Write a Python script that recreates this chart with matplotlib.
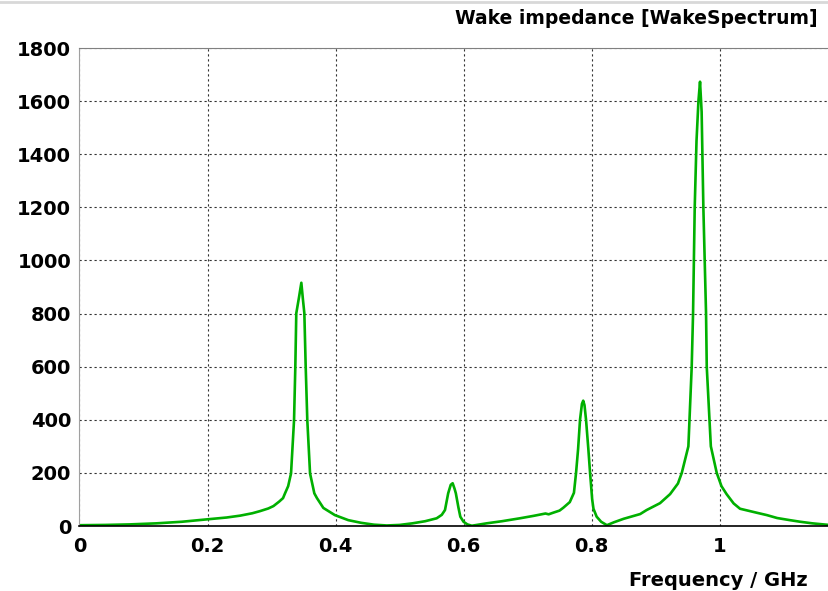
import matplotlib
matplotlib.use("Agg")
import matplotlib.pyplot as plt
from matplotlib.lines import Line2D

# Frequency (GHz) and wake impedance values
freq = [0.000, 0.040, 0.078, 0.120, 0.160, 0.199, 0.230, 0.251, 0.270, 0.282,
        0.295, 0.303, 0.312, 0.318, 0.3211, 0.326, 0.3305, 0.3352, 0.3372, 0.3387,
        0.3430, 0.3466, 0.3490, 0.3513, 0.3534, 0.3559, 0.3602, 0.3669, 0.371, 0.381,
        0.399,
        0.420, 0.440, 0.460, 0.480, 0.500, 0.520, 0.540, 0.558, 0.566, 0.571,
        0.576, 0.580, 0.583, 0.586, 0.588, 0.592, 0.595, 0.600, 0.606, 0.613,
        0.636, 0.660, 0.688, 0.709, 0.728, 0.733, 0.740, 0.750, 0.756, 0.766,
        0.7725, 0.7758, 0.779, 0.782, 0.785, 0.787, 0.789, 0.7914, 0.795, 0.7977,
        0.801, 0.803, 0.808, 0.815, 0.824, 0.835, 0.850, 0.876, 0.886, 0.907,
        0.9227, 0.935, 0.941, 0.9513, 0.9565, 0.9586, 0.9612, 0.964, 0.967, 0.9695,
        0.972, 0.9747, 0.9789, 0.980, 0.9864, 0.9956, 1.003, 1.011, 1.022, 1.032,
        1.058, 1.074, 1.090, 1.110, 1.126, 1.145, 1.171]
impedance = [3, 4, 6, 10, 16, 25, 32, 39, 48, 56,
             66, 75, 92, 105, 123, 150, 198, 399, 600, 801,
             862, 916, 855, 801, 600, 399, 198, 123, 105, 68,
             41,
             22, 12, 5, 2, 4, 10, 18, 29, 42, 60,
             123, 155, 161, 140, 123, 70, 35, 16, 6, 1,
             10, 18, 29, 38, 47, 44, 50, 58, 69, 90,
             125, 200, 290, 400, 460, 472, 455, 400, 290, 200,
             100, 65, 35, 16, 3, 14, 27, 45, 60, 86,
             120, 160, 200, 300, 600, 800, 1200, 1450, 1600, 1673,
             1560, 1200, 800, 600, 300, 200, 150, 120, 85, 65,
             50, 41, 30, 22, 16, 10, 4]

x_ticks = [0, 0.2, 0.4, 0.6, 0.8, 1.0]
x_tick_labels = ["0", "0.2", "0.4", "0.6", "0.8", "1"]
y_ticks = [0, 200, 400, 600, 800, 1000, 1200, 1400, 1600, 1800]
y_tick_labels = ["0", "200", "400", "600", "800", "1000", "1200", "1400", "1600", "1800"]

W, H = 829, 591
fig = plt.figure(figsize=(W / 100, H / 100), dpi=100)
fig.patch.set_facecolor("white")

left, right, top, bottom = 79.5, 829, 48, 526
ax = fig.add_axes([left / W, 1 - bottom / H, (right - left) / W, (bottom - top) / H])

ax.plot(freq, impedance, color="#00b000", linewidth=1.9, solid_joinstyle="round")

ax.set_xlim(0, 1.171)
ax.set_ylim(0, 1800)
ax.set_xticks(x_ticks)
ax.set_xticklabels(x_tick_labels)
ax.set_yticks(y_ticks)
ax.set_yticklabels(y_tick_labels)

ax.grid(True, color="#333333", linestyle=(0, (2, 2.5)), linewidth=0.8)
ax.set_axisbelow(True)

for lab in ax.get_xticklabels() + ax.get_yticklabels():
    lab.set_fontweight("bold")
    lab.set_fontsize(14)
ax.tick_params(axis="both", length=0, pad=6)
ax.tick_params(axis="x", pad=8)

ax.spines["right"].set_visible(False)
ax.spines["top"].set_color("#808080")
ax.spines["left"].set_color("#a0a0a0")
ax.spines["bottom"].set_color("#000000")
ax.spines["bottom"].set_linewidth(1.2)

fig.text(818 / W, 1 - 18 / H, "Wake impedance [WakeSpectrum]", ha="right", va="center",
         fontsize=13.5, fontweight="bold")
fig.text(808 / W, 1 - 580 / H, "Frequency / GHz", ha="right", va="center",
         fontsize=14, fontweight="bold")

fig.add_artist(Line2D([0, 1], [1 - 1.5 / H, 1 - 1.5 / H], transform=fig.transFigure,
                      color="#d8d8d8", linewidth=2))

fig.savefig("out.png", dpi=100)
